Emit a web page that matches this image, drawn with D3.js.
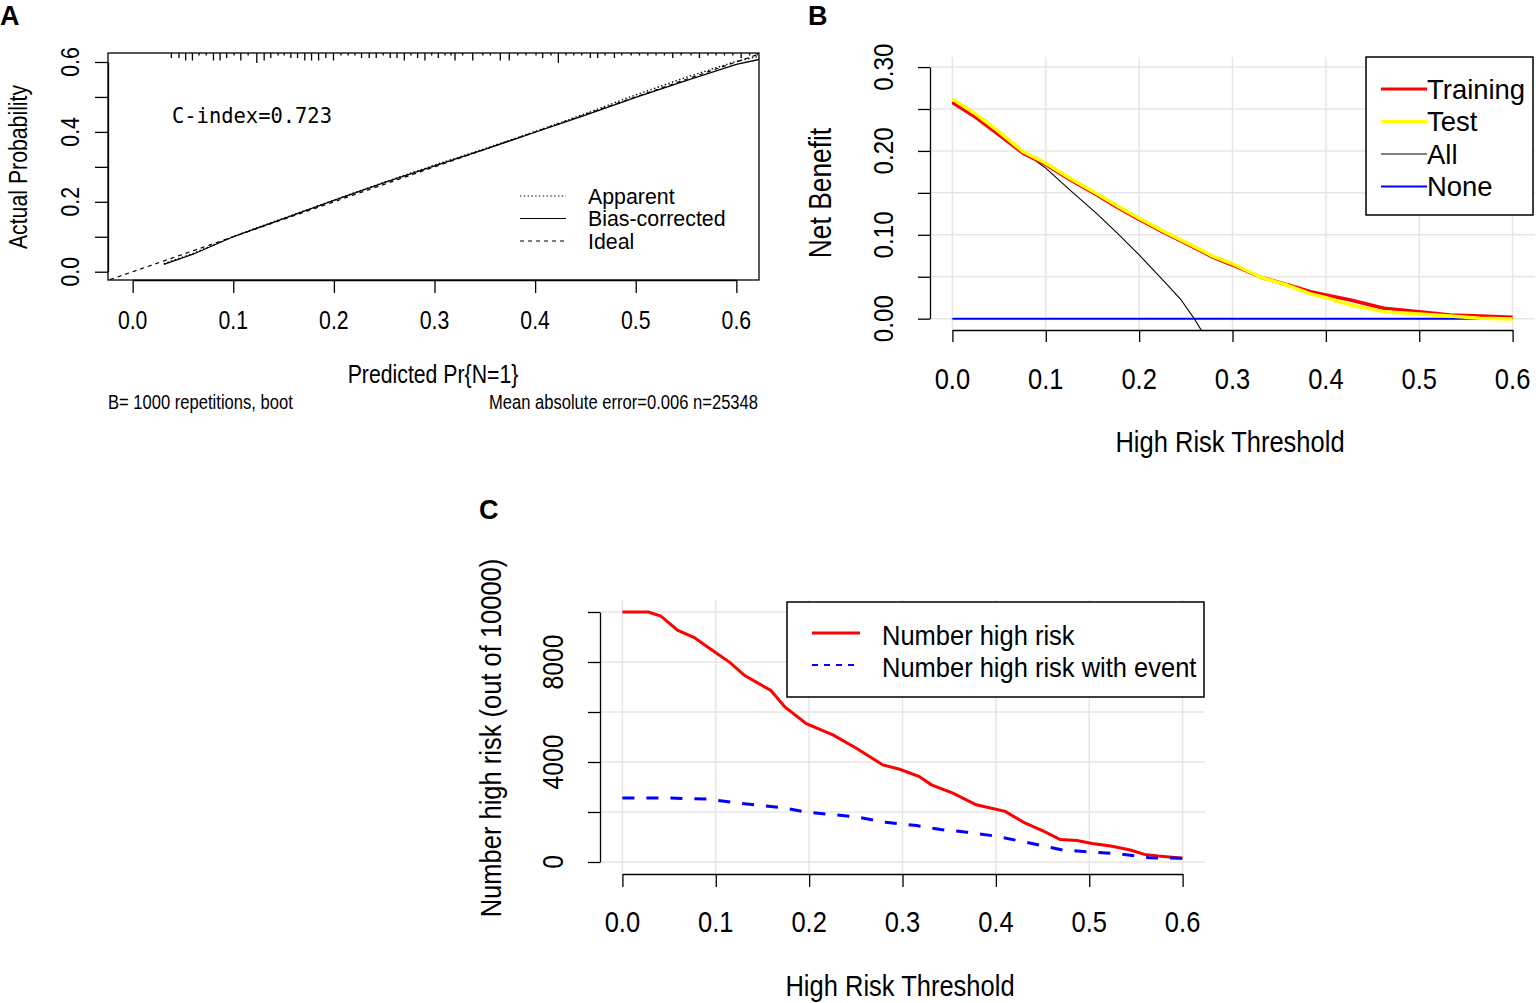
<!DOCTYPE html>
<html>
<head>
<meta charset="utf-8">
<script src="https://cdn.jsdelivr.net/npm/d3@7"></script>
<style>
  body { margin: 0; background: #fff; }
  svg { display: block; font-family: "Liberation Sans", Arial, sans-serif; }
</style>
</head>
<body>
<svg id="chart" width="1536" height="1003"></svg>
<script>
// ---------- data ----------

// A: calibration curve
const calX     = [0.031, 0.06, 0.10, 0.15, 0.20, 0.25, 0.30, 0.35, 0.40, 0.45, 0.50, 0.55, 0.60, 0.624];
const apparent = [0.023, 0.052, 0.101, 0.153, 0.205, 0.256, 0.305, 0.352, 0.401, 0.452, 0.506, 0.556, 0.602, 0.617];
const biasCorr = [0.021, 0.050, 0.100, 0.152, 0.204, 0.255, 0.303, 0.350, 0.399, 0.448, 0.499, 0.547, 0.593, 0.608];
const idealX   = [-0.03, 0.63];
const calTicks = [0, 0.1, 0.2, 0.3, 0.4, 0.5, 0.6];
const calXLabels = ["0.0", "0.1", "0.2", "0.3", "0.4", "0.5", "0.6"];
const calYLabels = [[0, "0.0"], [0.2, "0.2"], [0.4, "0.4"], [0.6, "0.6"]];
// rug of predicted probabilities (position, relative height 1-4)
const rugX = [0.0385, 0.046, 0.0527, 0.0594, 0.066, 0.0731, 0.0803, 0.0869, 0.0935, 0.1008, 0.1075, 0.1148,
  0.1234, 0.1307, 0.1373, 0.1446, 0.1506, 0.1572, 0.1639, 0.1711, 0.1778, 0.1848, 0.192, 0.1996, 0.207,
  0.2142, 0.2209, 0.2275, 0.2351, 0.2421, 0.249, 0.256, 0.2627, 0.27, 0.2766, 0.2832, 0.2905, 0.2972,
  0.3038, 0.3104, 0.3164, 0.3204, 0.328, 0.338, 0.348, 0.3555, 0.3654, 0.3743, 0.3827, 0.391, 0.4009,
  0.4075, 0.4158, 0.4231, 0.4307, 0.4384, 0.4463, 0.4549, 0.4622, 0.4695, 0.4788, 0.4861, 0.4954,
  0.5037, 0.512, 0.5202, 0.5285, 0.5368, 0.5451, 0.555, 0.5633, 0.5717, 0.5799, 0.5882, 0.5965,
  0.6048, 0.6131, 0.6207];
const rugH = [2, 2, 3, 3, 1, 1, 3, 3, 2, 1, 3, 1,
  4, 3, 2, 1, 1, 2, 2, 3, 3, 3, 2, 3, 1,
  1, 1, 2, 2, 2, 1, 2, 2, 3, 1, 2, 3, 1,
  2, 1, 1, 3, 1, 3, 1, 1, 3, 3, 1, 1, 1,
  2, 1, 4, 1, 1, 1, 2, 2, 1, 2, 1, 1,
  1, 1, 1, 1, 2, 1, 1, 2, 1, 1, 1, 1,
  2, 1, 1];
const legendA = ["Apparent", "Bias-corrected", "Ideal"];

// B: decision curve
const thrB     = [0, 0.025, 0.0474, 0.076, 0.10, 0.1257, 0.154, 0.1766, 0.20, 0.227, 0.2556, 0.28, 0.30,
  0.3303, 0.3588, 0.3838, 0.40, 0.4264, 0.462, 0.50, 0.533, 0.565, 0.60];
const training = [0.2578, 0.240, 0.2212, 0.197, 0.1838, 0.1660, 0.1482, 0.1330, 0.1184, 0.1024, 0.0866, 0.0728, 0.0640,
  0.0494, 0.0405, 0.0322, 0.0283, 0.0223, 0.0124, 0.0084, 0.0044, 0.0032, 0.0017];
const test     = [0.2618, 0.244, 0.2252, 0.199, 0.1854, 0.1675, 0.1496, 0.1345, 0.1198, 0.1038, 0.0880, 0.0740, 0.0655,
  0.0494, 0.0398, 0.0295, 0.0251, 0.0163, 0.0084, 0.0056, 0.0032, 0.0005, -0.0004];
const thrAll   = [0, 0.05, 0.076, 0.10, 0.1257, 0.154, 0.1766, 0.20, 0.227, 0.245, 0.259, 0.2665, 0.275];
const treatAll = [0.258, 0.221, 0.199, 0.1795, 0.1536, 0.1258, 0.1019, 0.076, 0.0442, 0.0223, 0.0, -0.0135, -0.024];
const thrNone  = [0, 0.60];
const treatNone = [0, 0];
const nbTicks  = [0, 0.05, 0.10, 0.15, 0.20, 0.25, 0.30];
const nbLabels = [[0, "0.00"], [0.1, "0.10"], [0.2, "0.20"], [0.3, "0.30"]];
const legendB  = ["Training", "Test", "All", "None"];

// C: clinical impact curve
const thrC     = [0, 0.028, 0.041, 0.059, 0.077, 0.097, 0.115, 0.131, 0.159, 0.174, 0.197, 0.226, 0.251, 0.279,
  0.297, 0.318, 0.331, 0.354, 0.379, 0.41, 0.431, 0.451, 0.469, 0.487, 0.503, 0.523, 0.544, 0.559, 0.574, 0.60];
const highRisk = [10000, 10000, 9841, 9272, 8980, 8450, 7987, 7457, 6861, 6199, 5536, 5073, 4543, 3881,
  3709, 3417, 3086, 2755, 2291, 2026, 1563, 1232, 901, 861, 742, 636, 477, 305, 238, 146];
const thrEvent = [0, 0.051, 0.092, 0.118, 0.169, 0.197, 0.251, 0.282, 0.315, 0.341, 0.369, 0.40, 0.423,
  0.449, 0.472, 0.503, 0.533, 0.564, 0.60];
const withEvent = [2556, 2556, 2517, 2384, 2185, 2000, 1801, 1589, 1457, 1298, 1192, 1033, 861,
  662, 477, 397, 318, 172, 146];
const nTicks   = [0, 2000, 4000, 6000, 8000, 10000];
const nLabels  = [[0, "0"], [4000, "4000"], [8000, "8000"]];
const legendC  = ["Number high risk", "Number high risk with event"];

// ---------- helpers ----------
const svg = d3.select("#chart");

// text, optionally rotated, squeezed a bit to mimic the narrow R device font
function label(g, x, y, txt, size, anchor = "middle", rotate = false, k = 0.85) {
    const t = g.append("text")
        .attr("transform", rotate ? `translate(${x},${y}) rotate(-90)` : `translate(${x},${y})`)
        .attr("text-anchor", anchor)
        .attr("dy", "0.35em")
        .attr("font-size", size)
        .attr("fill", "#000")
        .text(txt);
    if (k !== 1) {
        const len = t.node().getComputedTextLength();
        t.attr("textLength", len * k).attr("lengthAdjust", "spacingAndGlyphs");
    }
    return t;
}

// R style axis: line from first to last tick, no labels (added separately)
function rAxis(g, orient, scale, ticks, size) {
    const ext = d3.extent(ticks);
    const s = scale.copy().domain(ext).range(ext.map(scale));
    const ax = (orient === "left" ? d3.axisLeft(s) : d3.axisBottom(s))
        .tickValues(ticks).tickSize(size).tickSizeOuter(0).tickFormat("");
    g.call(ax);
    g.selectAll("path, line").attr("stroke", "#000").attr("stroke-width", 1.3);
}

function clip(id, x0, y0, x1, y1) {
    svg.append("clipPath").attr("id", id)
        .append("rect").attr("x", x0).attr("y", y0).attr("width", x1 - x0).attr("height", y1 - y0);
    return `url(#${id})`;
}

function pts(xs, ys) { return xs.map((x, i) => [x, ys[i]]); }

// panel letters
[["A", 0, 16], ["B", 808, 16], ["C", 479, 510]].forEach(([l, x, y]) => {
    label(svg, x, y, l, 27, "start", false, 1).attr("font-weight", "bold");
});

// ---------- A: calibration ----------
function plotA() {
    const g = svg.append("g");
    const x = d3.scaleLinear().domain([-0.0245, 0.6225]).range([108, 759]);
    const y = d3.scaleLinear().domain([-0.0237, 0.6257]).range([280, 53]);
    const rugLen = d3.scaleLinear().domain([0, 4]).range([0, 10]);

    g.append("g").attr("transform", "translate(0,280)").call(gg => rAxis(gg, "bottom", x, calTicks, 13));
    g.append("g").attr("transform", "translate(108,0)").call(gg => rAxis(gg, "left", y, calTicks, 13));

    const cp = clip("clipA", 108, 53, 759, 280);
    const line = d3.line().x(d => x(d[0])).y(d => y(d[1]));
    const plot = g.append("g").attr("clip-path", cp);
    plot.append("path").attr("d", line(pts(idealX, idealX)))
        .attr("fill", "none").attr("stroke", "#000").attr("stroke-width", 1.2).attr("stroke-dasharray", "4,4");
    plot.append("path").attr("d", line(pts(calX, apparent)))
        .attr("fill", "none").attr("stroke", "#000").attr("stroke-width", 1.4).attr("stroke-dasharray", "1.4,2.4");
    plot.append("path").attr("d", line(pts(calX, biasCorr)))
        .attr("fill", "none").attr("stroke", "#000").attr("stroke-width", 1.3);

    // rug along the top
    plot.selectAll(".rug").data(pts(rugX, rugH)).join("line")
        .attr("x1", d => x(d[0])).attr("x2", d => x(d[0]))
        .attr("y1", 53).attr("y2", d => 53 + rugLen(d[1]))
        .attr("stroke", "#000").attr("stroke-width", 1.3);

    g.append("rect").attr("x", 108).attr("y", 53).attr("width", 651).attr("height", 227)
        .attr("fill", "none").attr("stroke", "#000").attr("stroke-width", 1.3);

    calTicks.forEach((t, i) => label(g, x(t), 320, calXLabels[i], 25));
    calYLabels.forEach(([v, s]) => label(g, 70, y(v), s, 25, "middle", true));
    label(g, 433, 374, "Predicted Pr{N=1}", 25);
    label(g, 18, 167, "Actual Probability", 25, "middle", true);
    label(g, 108, 402, "B= 1000 repetitions, boot", 19.5, "start");
    label(g, 758, 402, "Mean absolute error=0.006 n=25348", 19.5, "end");

    g.append("text").attr("x", 172).attr("y", 116).attr("dy", "0.35em")
        .attr("font-family", "'DejaVu Sans Mono', 'Liberation Mono', monospace")
        .attr("font-size", 21).attr("textLength", 160).attr("lengthAdjust", "spacingAndGlyphs")
        .text("C-index=0.723");

    // legend
    const dash = ["1.4,2.4", null, "4,4"];
    legendA.forEach((name, i) => {
        const ly = 196 + i * 22.5;
        g.append("line").attr("x1", 520).attr("x2", 566).attr("y1", ly).attr("y2", ly)
            .attr("stroke", "#000").attr("stroke-width", 1.2).attr("stroke-dasharray", dash[i]);
        label(g, 588, ly, name, 22, "start", false, 0.97);
    });
}

// ---------- B: decision curve ----------
function plotB() {
    const g = svg.append("g");
    const x = d3.scaleLinear().domain([-0.024, 0.624]).range([930, 1535]);
    const y = d3.scaleLinear().domain([-0.0135, 0.312]).range([330, 57]);

    // grid
    g.selectAll(".gx").data(calTicks).join("line")
        .attr("x1", d => x(d)).attr("x2", d => x(d)).attr("y1", 57).attr("y2", 330)
        .attr("stroke", "#e6e6e6").attr("stroke-width", 1.5);
    g.selectAll(".gy").data(nbTicks).join("line")
        .attr("x1", 930).attr("x2", 1535).attr("y1", d => y(d)).attr("y2", d => y(d))
        .attr("stroke", "#e6e6e6").attr("stroke-width", 1.5);

    const cp = clip("clipB", 930, 57, 1535, 330);
    const line = d3.line().x(d => x(d[0])).y(d => y(d[1]));
    const plot = g.append("g").attr("clip-path", cp);
    const series = [
        [thrNone, treatNone, "#0000ff", 2],
        [thrAll, treatAll, "#000", 1.1],
        [thrB, training, "#ff0000", 3.5],
        [thrB, test, "#ffff00", 3.5]
    ];
    series.forEach(([xs, ys, c, w]) => {
        plot.append("path").attr("d", line(pts(xs, ys)))
            .attr("fill", "none").attr("stroke", c).attr("stroke-width", w).attr("stroke-linejoin", "round");
    });

    g.append("g").attr("transform", "translate(0,330)").call(gg => rAxis(gg, "bottom", x, calTicks, 12));
    g.append("g").attr("transform", "translate(930,0)").call(gg => rAxis(gg, "left", y, nbTicks, 12));

    calTicks.forEach((t, i) => label(g, x(t), 378, calXLabels[i], 30));
    nbLabels.forEach(([v, s]) => label(g, 883, y(v), s, 28.5, "middle", true));
    label(g, 1230, 441, "High Risk Threshold", 30);
    label(g, 820, 193, "Net Benefit", 31, "middle", true);

    // legend
    g.append("rect").attr("x", 1366).attr("y", 57).attr("width", 167).attr("height", 158)
        .attr("fill", "#fff").attr("stroke", "#000").attr("stroke-width", 1.5);
    const legColor = ["#ff0000", "#ffff00", "#000", "#0000ff"];
    const legWidth = [3, 3, 1.2, 2];
    legendB.forEach((name, i) => {
        const ly = 89 + i * 32.5;
        g.append("line").attr("x1", 1381).attr("x2", 1427).attr("y1", ly).attr("y2", ly)
            .attr("stroke", legColor[i]).attr("stroke-width", legWidth[i]);
        label(g, 1427, ly, name, 28, "start", false, 0.98);
    });
}

// ---------- C: clinical impact ----------
function plotC() {
    const g = svg.append("g");
    const x = d3.scaleLinear().domain([-0.024, 0.624]).range([600, 1205]);
    const y = d3.scaleLinear().domain([-480, 10480]).range([874, 600]);

    g.selectAll(".gx").data(calTicks).join("line")
        .attr("x1", d => x(d)).attr("x2", d => x(d)).attr("y1", 600).attr("y2", 874)
        .attr("stroke", "#e6e6e6").attr("stroke-width", 1.5);
    g.selectAll(".gy").data(nTicks).join("line")
        .attr("x1", 600).attr("x2", 1205).attr("y1", d => y(d)).attr("y2", d => y(d))
        .attr("stroke", "#e6e6e6").attr("stroke-width", 1.5);

    const cp = clip("clipC", 600, 600, 1205, 874);
    const line = d3.line().x(d => x(d[0])).y(d => y(d[1]));
    const plot = g.append("g").attr("clip-path", cp);
    plot.append("path").attr("d", line(pts(thrC, highRisk)))
        .attr("fill", "none").attr("stroke", "#ff0000").attr("stroke-width", 3);
    plot.append("path").attr("d", line(pts(thrEvent, withEvent)))
        .attr("fill", "none").attr("stroke", "#0000ff").attr("stroke-width", 3).attr("stroke-dasharray", "12,12");

    g.append("g").attr("transform", "translate(0,874)").call(gg => rAxis(gg, "bottom", x, calTicks, 13));
    g.append("g").attr("transform", "translate(600,0)").call(gg => rAxis(gg, "left", y, nTicks, 12));

    calTicks.forEach((t, i) => label(g, x(t), 921, calXLabels[i], 30));
    nLabels.forEach(([v, s]) => label(g, 553, y(v), s, 29, "middle", true));
    label(g, 900, 985, "High Risk Threshold", 30);
    label(g, 490, 738, "Number high risk (out of 10000)", 30, "middle", true);

    // legend
    g.append("rect").attr("x", 787).attr("y", 602).attr("width", 417).attr("height", 95)
        .attr("fill", "#fff").attr("stroke", "#000").attr("stroke-width", 1.5);
    const legColor = ["#ff0000", "#0000ff"];
    const legDash = [null, "6,6"];
    const legWidth = [3, 2];
    legendC.forEach((name, i) => {
        const ly = 633 + i * 32;
        g.append("line").attr("x1", 812).attr("x2", 860).attr("y1", ly).attr("y2", ly)
            .attr("stroke", legColor[i]).attr("stroke-width", legWidth[i]).attr("stroke-dasharray", legDash[i]);
        label(g, 882, ly + 2, name, 28, "start", false, 0.91);
    });
}

plotA();
plotB();
plotC();
</script>
</body>
</html>
